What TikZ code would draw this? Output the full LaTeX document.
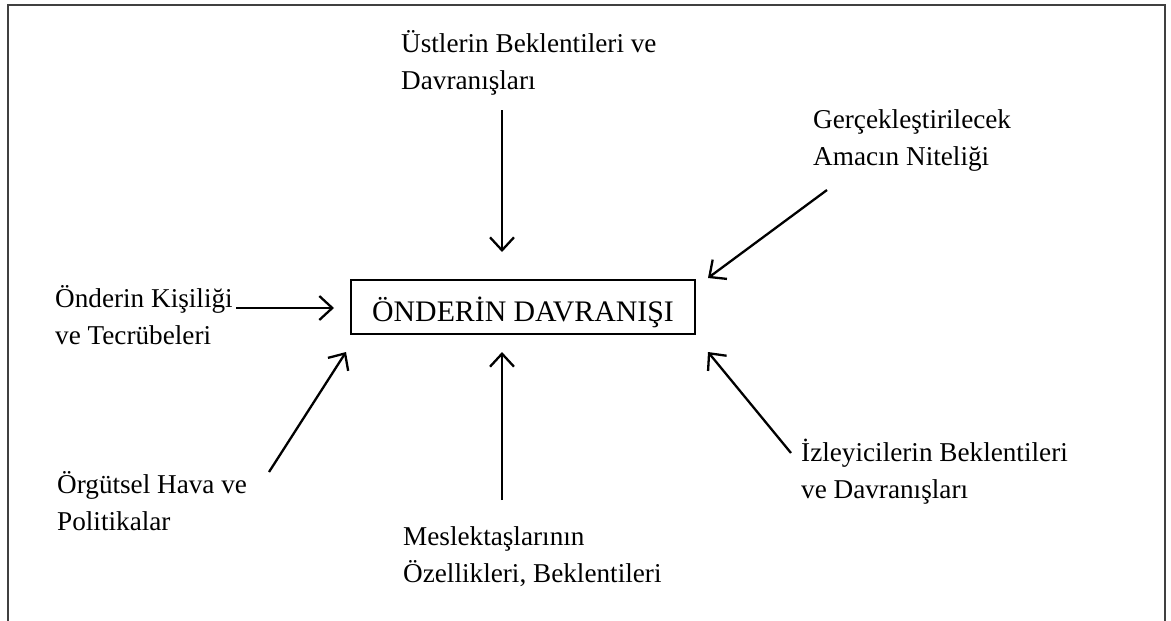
\documentclass[tikz,border=0pt]{standalone}
\usepackage{fontspec}
\setmainfont{Liberation Serif}
\usetikzlibrary{arrows.meta}
\begin{document}
\begin{tikzpicture}[x=1pt,y=-1pt,
  lbl/.style={anchor=base west,align=left,inner sep=0pt,font=\fontsize{27.2}{37}\selectfont},
  arr/.style={line width=2.3pt,-{Straight Barb[length=13pt,width=24pt]}},
  frame/.style={line width=2pt,draw=black!75},
  centerbox/.style={draw,line width=1.5pt,minimum width=344pt,minimum height=54pt,inner sep=0pt,text height=28pt,text depth=0pt,font=\fontsize{29.8}{36}\selectfont}]
\useasboundingbox (0,0) rectangle (1171,621);
\draw[frame] (8,621) -- (8,5) -- (1165,5) -- (1165,621);
\node[centerbox] (c) at (523,307) {ÖNDERİN DAVRANIŞI\hspace{11pt}};
\node[lbl] (top) at (401,89) {Üstlerin Beklentileri ve\\Davranışları};
\node[lbl] (tr) at (813,165) {Gerçekleştirilecek\\Amacın Niteliği};
\node[lbl] (lft) at (55,344) {Önderin Kişiliği\\ve Tecrübeleri};
\node[lbl] (bl) at (57,530) {Örgütsel Hava ve\\Politikalar};
\node[lbl] (br) at (801,498) {İzleyicilerin Beklentileri\\ve Davranışları};
\node[lbl] (bot) at (403,582) {Meslektaşlarının\\Özellikleri, Beklentileri};
\coordinate (topS) at (502,110);
\coordinate (topE) at (502,252);
\coordinate (trS) at (827,190);
\coordinate (trE) at (708,278);
\coordinate (lftS) at (236,308);
\coordinate (lftE) at (334,308);
\coordinate (blS) at (269,472);
\coordinate (blE) at (346,352);
\coordinate (botS) at (502,500);
\coordinate (botE) at (502,352);
\coordinate (brS) at (791,453);
\coordinate (brE) at (708,352);
\draw[arr] (topS) -- (topE);
\draw[arr] (trS) -- (trE);
\draw[arr] (lftS) -- (lftE);
\draw[arr] (blS) -- (blE);
\draw[arr] (botS) -- (botE);
\draw[arr] (brS) -- (brE);
\end{tikzpicture}
\end{document}
